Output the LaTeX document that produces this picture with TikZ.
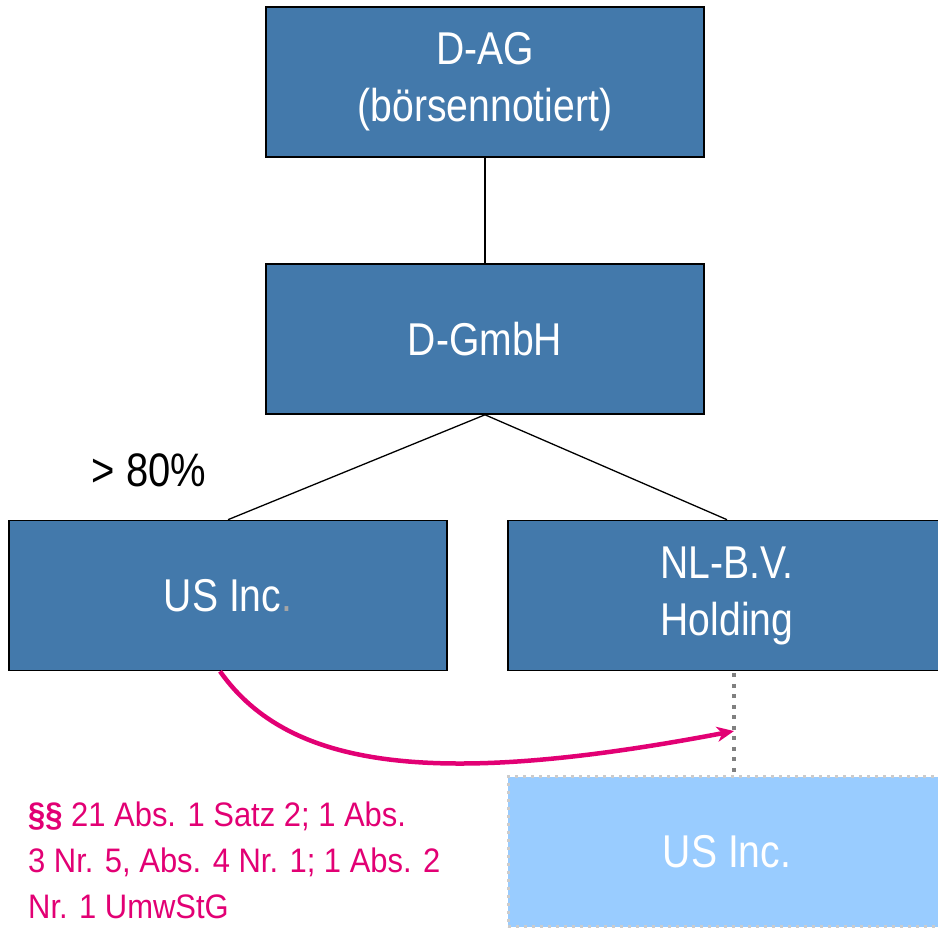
\documentclass[tikz,border=0pt]{standalone}
\usepackage{fontspec}
\setmainfont{Liberation Sans}[FakeStretch=0.85]
\newfontfamily\notefont{Liberation Sans}[FakeStretch=0.91]
\usetikzlibrary{%
    arrows.meta,
    calc,
    positioning
}
\definecolor{boxblue}{RGB}{67,121,171}
\definecolor{newblue}{RGB}{153,204,255}
\definecolor{tmagenta}{RGB}{226,0,116}
\tikzset{company/.style = {draw=black, line width=1.6pt, fill=boxblue, text=white,
    minimum width=438pt, minimum height=150pt, align=center,
    font=\fontsize{46}{57}\selectfont}}
\tikzset{newcompany/.style = {company, draw=black!20, line width=3pt,
    dash pattern=on 3pt off 5pt, fill=newblue}}
\tikzset{headarrow/.style = {-{Stealth[length=17pt,width=15pt,inset=5pt]}}}
\tikzset{move/.style = {tmagenta, line width=4.5pt, headarrow}}

\begin{document}
\begin{tikzpicture}[x=1pt,y=1pt]
    \useasboundingbox (0,0) rectangle (938,929);

    \node (dag) at (485,847) [company] {\raisebox{-4pt}{D-AG}\\\raisebox{-4pt}{(b\"orsennotiert)}};
    \node (dgmbh) at (485,590) [company] {D-GmbH};
    \node (usinc) at (228,333.5) [company] {US Inc{\color{black!35}.}};
    \node (nlbv) at (727,333.5) [company] {\raisebox{-5pt}{NL-B.V.}\\\raisebox{-5pt}{Holding}};
    \node (usnew) at (727,77) [newcompany] {US Inc.};

    \node (share) at (149,459) [font=\fontsize{47}{52}\selectfont] {> 80\%};

    \foreach \Source/\Target in {dag.south/dgmbh.north, dgmbh.south/usinc.north, dgmbh.south/nlbv.north}
        \draw[line width=1.3pt] (\Source) to (\Target);

    \coordinate (drop) at ($(nlbv.south)+(7,-2)$);
    \coordinate (dropend) at (drop |- usnew.north);
    \draw[black!50, line width=4pt, dash pattern=on 4pt off 6.5pt] (drop) -- (dropend);

    \coordinate (start) at ($(usinc.south)+(-8,0)$);
    \coordinate (hit) at ($(drop)!0.565!(dropend)$);
    \draw[move] (start) .. controls (290,158) and (440,142) .. (hit);

    \node (rule) at (28,127) [anchor=north west, inner sep=0pt, align=left, text=tmagenta,
        font=\notefont\fontsize{34}{46}\selectfont]
        {\textbf{\S\S} 21 Abs. 1 Satz 2; 1 Abs.\\3 Nr. 5, Abs. 4 Nr. 1; 1 Abs. 2\\Nr. 1 UmwStG};
\end{tikzpicture}
\end{document}
